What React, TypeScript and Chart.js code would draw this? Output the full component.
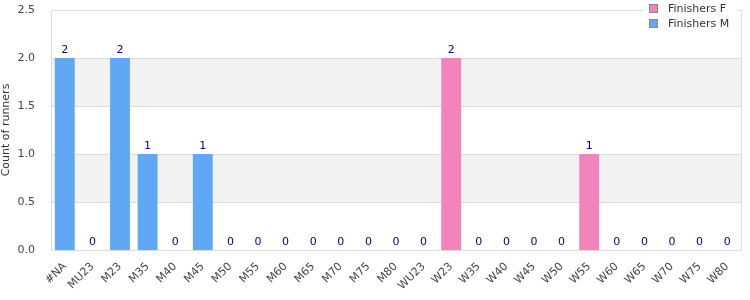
import React, { useEffect, useRef } from "react";
import { Chart, registerables } from "chart.js";

Chart.register(...registerables);

const categories = ["#NA","MU23","M23","M35","M40","M45","M50","M55","M60","M65","M70","M75","M80","WU23","W23","W35","W40","W45","W50","W55","W60","W65","W70","W75","W80"];
const finishersF = [0,0,0,0,0,0,0,0,0,0,0,0,0,0,2,0,0,0,0,1,0,0,0,0,0];
const finishersM = [2,0,2,1,0,1,0,0,0,0,0,0,0,0,0,0,0,0,0,0,0,0,0,0,0];
const yTicks = [0, 0.5, 1.0, 1.5, 2.0, 2.5];
const seriesNames = ["Finishers F", "Finishers M"];
const seriesColors = ["#f383bb", "#60a8f4"];

const FONT = "DejaVu Sans";

const decorPlugin = {
  id: "decor",
  beforeDatasetsDraw(chart: any) {
    const { ctx, chartArea, scales } = chart;
    const y = scales.y;
    ctx.save();
    ctx.fillStyle = "#f2f2f2";
    for (const [a, b] of [[0.5, 1.0], [1.5, 2.0]]) {
      const top = y.getPixelForValue(b);
      const bot = y.getPixelForValue(a);
      ctx.fillRect(chartArea.left, top, chartArea.right - chartArea.left, bot - top);
    }
    ctx.strokeStyle = "#dddddd";
    ctx.lineWidth = 1;
    for (const v of yTicks) {
      const p = Math.round(y.getPixelForValue(v)) + 0.5;
      ctx.beginPath();
      ctx.moveTo(chartArea.left, p);
      ctx.lineTo(chartArea.right, p);
      ctx.stroke();
    }
    ctx.strokeRect(Math.round(chartArea.left) + 0.5, Math.round(chartArea.top) + 0.5,
      Math.round(chartArea.right - chartArea.left), Math.round(chartArea.bottom - chartArea.top));
    ctx.restore();
  },
  afterDatasetsDraw(chart: any) {
    const { ctx, scales } = chart;
    const x = scales.x, y = scales.y;
    ctx.save();
    ctx.font = `11px "${FONT}"`;
    ctx.fillStyle = "#00008b";
    ctx.textAlign = "center";
    ctx.textBaseline = "bottom";
    categories.forEach((_, i) => {
      const total = finishersF[i] + finishersM[i];
      const px = x.getPixelForValue(i);
      const py = y.getPixelForValue(total) - 2;
      ctx.fillText(String(total), px, py);
    });
    // legend
    const lx = 643, lw = 94;
    ctx.fillStyle = "#ffffff";
    ctx.fillRect(lx, 0, lw, 32);
    ctx.textAlign = "left";
    ctx.textBaseline = "middle";
    seriesNames.forEach((name, i) => {
      const cy = 9 + i * 15;
      ctx.fillStyle = seriesColors[i];
      ctx.fillRect(649.5, cy - 4.5, 8, 8);
      ctx.strokeStyle = "#888888";
      ctx.lineWidth = 1;
      ctx.strokeRect(649.5, cy - 4.5, 8, 8);
      ctx.fillStyle = "#333333";
      ctx.fillText(name, 668, cy);
    });
    ctx.restore();
  },
};

export default function App() {
  const ref = useRef<HTMLCanvasElement>(null);
  useEffect(() => {
    document.body.style.margin = "0";
    const chart = new Chart(ref.current as HTMLCanvasElement, {
      type: "bar",
      data: {
        labels: categories,
        datasets: [
          { label: seriesNames[0], data: finishersF, backgroundColor: seriesColors[0], borderWidth: 0 },
          { label: seriesNames[1], data: finishersM, backgroundColor: seriesColors[1], borderWidth: 0 },
        ],
      },
      plugins: [decorPlugin],
      options: {
        animation: false,
        responsive: false,
        maintainAspectRatio: false,
        layout: { padding: { top: 10, right: 9, left: 0, bottom: 0 } },
        datasets: { bar: { categoryPercentage: 0.8, barPercentage: 0.9 } },
        plugins: { legend: { display: false }, tooltip: { enabled: false } },
        scales: {
          x: {
            stacked: true,
            grid: { display: false },
            border: { display: false },
            ticks: { color: "#444444", font: { family: FONT, size: 11 }, minRotation: 45, maxRotation: 45, autoSkip: false, padding: 2 },
            afterFit: (s: any) => { s.height = 50; s.paddingLeft = 0; s.paddingRight = 0; },
          },
          y: {
            stacked: true,
            min: 0,
            max: 2.5,
            afterBuildTicks: (s: any) => { s.ticks = yTicks.map((v) => ({ value: v })); },
            grid: { display: false },
            border: { display: false },
            ticks: { color: "#444444", font: { family: FONT, size: 11 }, padding: 8, callback: (v: any) => Number(v).toFixed(1) },
            title: { display: true, text: "Count of runners", color: "#333333", font: { family: FONT, size: 11 }, padding: { top: 0, bottom: 2 } },
            afterFit: (s: any) => { s.width = 51; s.paddingTop = 0; s.paddingBottom = 0; },
          },
        },
      },
    });
    return () => chart.destroy();
  }, []);
  return (
    <div style={{ width: 750, height: 300 }}>
      <canvas ref={ref} width={750} height={300} style={{ display: "block" }} />
    </div>
  );
}
